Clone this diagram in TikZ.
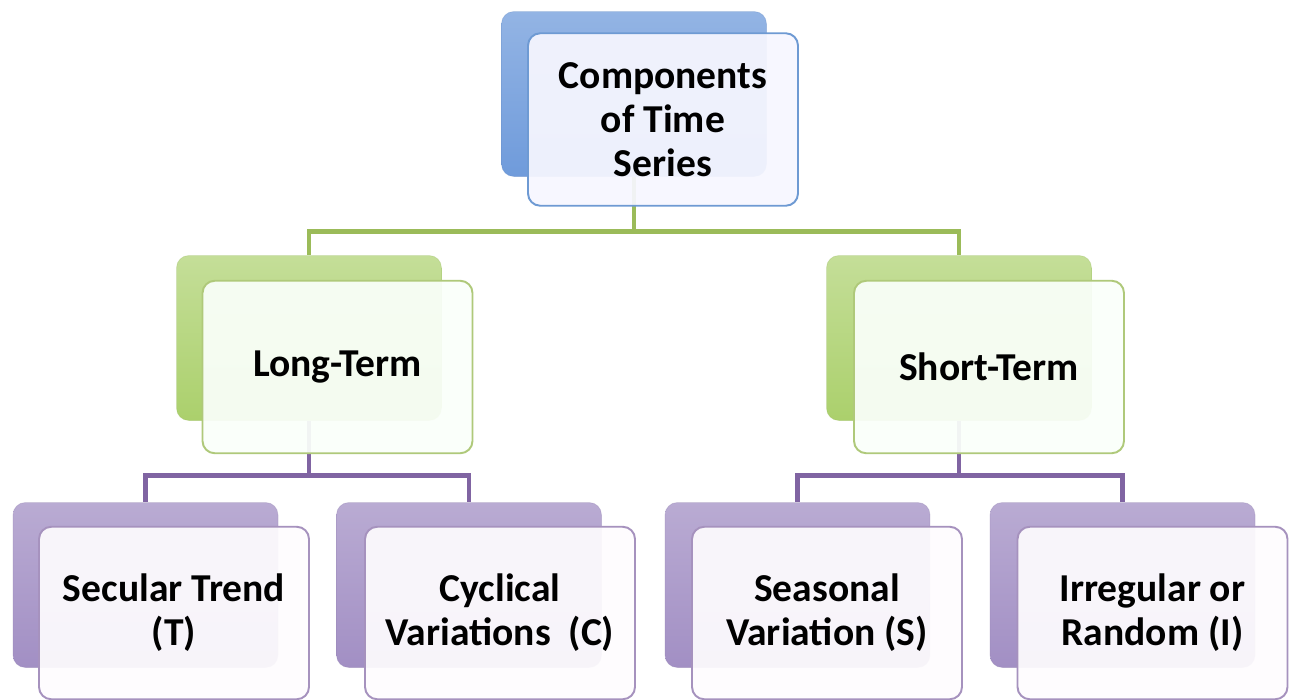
\documentclass[tikz,border=0pt]{standalone}
\usepackage{fontspec}
\setmainfont{Carlito}
\usepackage{tikz}
\usetikzlibrary{positioning,calc}
\definecolor{bluebk}{HTML}{6F9BDB}
\definecolor{blueln}{HTML}{6E9AD3}
\definecolor{greenbk}{HTML}{ABD06C}
\definecolor{greenln}{HTML}{9BBB59}
\definecolor{purpbk}{HTML}{A28FC4}
\definecolor{purpln}{HTML}{8064A2}

\begin{document}
\begin{tikzpicture}[font=\bfseries\fontsize{22.5}{25}\selectfont,
 back/.style={rounded corners=7pt,minimum width=53mm,minimum height=33mm,inner sep=0pt},
 bluebox/.style={back,top color=bluebk!75!white,bottom color=bluebk,draw=bluebk!90!black,draw opacity=0.3},
 greenbox/.style={back,top color=greenbk!70!white,bottom color=greenbk,draw=greenbk!90!black,draw opacity=0.3},
 purpbox/.style={back,top color=purpbk!75!white,bottom color=purpbk,draw=purpbk!90!black,draw opacity=0.3},
 front/.style={rounded corners=7pt,minimum width=54mm,minimum height=34.5mm,align=center,line width=1.1pt,fill opacity=0.93,text opacity=1},
 topbox/.style={front,draw=blueln,fill=blue!3!white},
 midbox/.style={front,draw=greenln!80!white,fill=green!2!white},
 lowbox/.style={front,draw=purpln!70!white,fill=violet!1!white},
 gline/.style={draw=greenln,line width=2.8pt},
 pline/.style={draw=purpln,line width=2.8pt}]
\useasboundingbox[fill=white] (0,0) rectangle (25.8,-14);
% back panels
\node[bluebox] (rootbk) at (12.68,-1.88) {};
\node[greenbox] (longbk) at (6.18,-6.76) {};
\node[greenbox] (shortbk) at (19.18,-6.76) {};
\node[purpbox] (trendbk) at (2.91,-11.70) {};
\node[purpbox] (cyclebk) at (9.38,-11.70) {};
\node[purpbox] (seasonbk) at (15.95,-11.70) {};
\node[purpbox] (irregbk) at (22.45,-11.70) {};
% connectors
\foreach \c in {longbk,shortbk}
  \draw[gline] (rootbk.south) |- ($(\c.north)+(0,0.47)$) -- (\c.north);
\foreach \p/\c in {longbk/trendbk,longbk/cyclebk,shortbk/seasonbk,shortbk/irregbk}
  \draw[pline] (\p.south) |- ($(\c.north)+(0,0.53)$) -- (\c.north);
% front panels
\node[topbox] (root) at (13.26,-2.39) {Components\\of Time\\Series};
\node[midbox] (longt) at (6.75,-7.34) {Long-Term};
\node[midbox] (shortt) at (19.78,-7.34) {Short-Term};
\node[lowbox] (trend) at (3.48,-12.26) {Secular Trend\\(T)};
\node[lowbox] (cycle) at (10.0,-12.26) {Cyclical\\Variations~~(C)};
\node[lowbox] (season) at (16.54,-12.26) {Seasonal\\Variation (S)};
\node[lowbox] (irreg) at (23.05,-12.26) {Irregular or\\Random (I)};
\end{tikzpicture}
\end{document}
